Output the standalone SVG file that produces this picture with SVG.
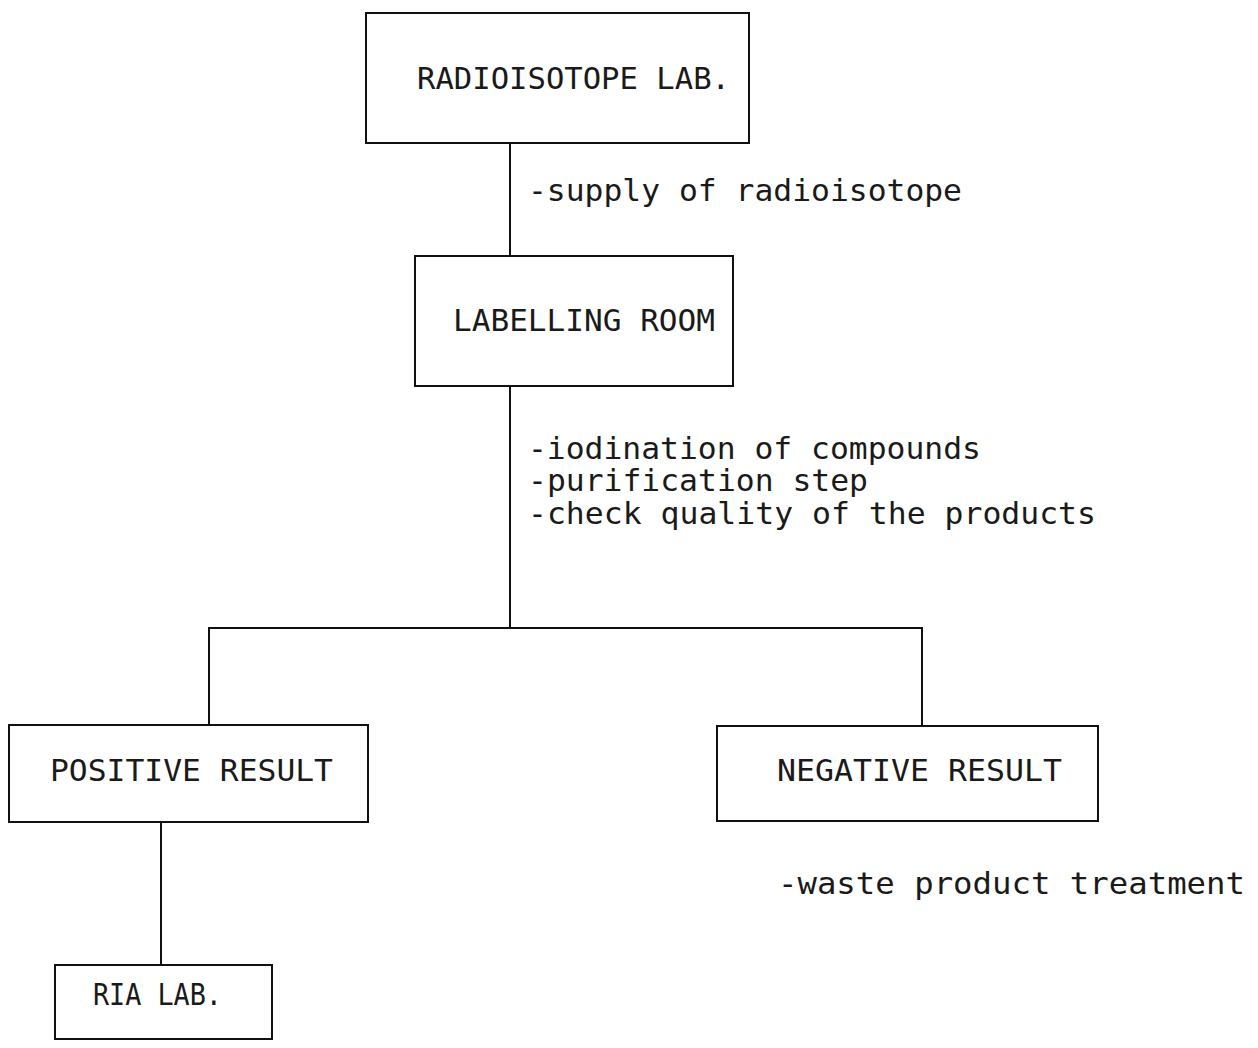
<svg xmlns="http://www.w3.org/2000/svg" width="1258" height="1048" viewBox="0 0 1258 1048">
  <style>
    .box { fill: none; stroke: #111; stroke-width: 2; }
    .wire { fill: none; stroke: #111; stroke-width: 2; }
    .t { font-family: "DejaVu Sans Mono", "Liberation Mono", monospace; font-size: 30px; fill: #1a1a1a; }
  </style>
  <rect width="1258" height="1048" fill="#fff"/>

  <!-- connectors -->
  <g id="connectors">
    <line class="wire" x1="510" y1="143" x2="510" y2="256"/>
    <line class="wire" x1="510" y1="386" x2="510" y2="628"/>
    <polyline class="wire" points="209,725 209,628 922,628 922,726"/>
    <line class="wire" x1="161" y1="822" x2="161" y2="965"/>
  </g>

  <!-- connector labels -->
  <g id="labels">
    <text class="t" x="528" y="201" textLength="434" lengthAdjust="spacingAndGlyphs">-supply of radioisotope</text>
    <text class="t" x="528" y="459" textLength="453" lengthAdjust="spacingAndGlyphs">-iodination of compounds</text>
    <text class="t" x="528" y="491" textLength="340" lengthAdjust="spacingAndGlyphs">-purification step</text>
    <text class="t" x="528" y="524" textLength="568" lengthAdjust="spacingAndGlyphs">-check quality of the products</text>
    <text class="t" x="778" y="894" textLength="467" lengthAdjust="spacingAndGlyphs">-waste product treatment</text>
  </g>

  <g id="radioisotope-lab">
    <rect class="box" x="366" y="13" width="383" height="130"/>
    <text class="t" x="417" y="89" textLength="313" lengthAdjust="spacingAndGlyphs">RADIOISOTOPE LAB.</text>
  </g>

  <g id="labelling-room">
    <rect class="box" x="415" y="256" width="318" height="130"/>
    <text class="t" x="453" y="331" textLength="262" lengthAdjust="spacingAndGlyphs">LABELLING ROOM</text>
  </g>

  <g id="positive-result">
    <rect class="box" x="9" y="725" width="359" height="97"/>
    <text class="t" x="50" y="781" textLength="283" lengthAdjust="spacingAndGlyphs">POSITIVE RESULT</text>
  </g>

  <g id="negative-result">
    <rect class="box" x="717" y="726" width="381" height="95"/>
    <text class="t" x="777" y="781" textLength="285" lengthAdjust="spacingAndGlyphs">NEGATIVE RESULT</text>
  </g>

  <g id="ria-lab">
    <rect class="box" x="55" y="965" width="217" height="74"/>
    <text class="t" x="93" y="1005" textLength="129" lengthAdjust="spacingAndGlyphs">RIA LAB.</text>
  </g>
</svg>
